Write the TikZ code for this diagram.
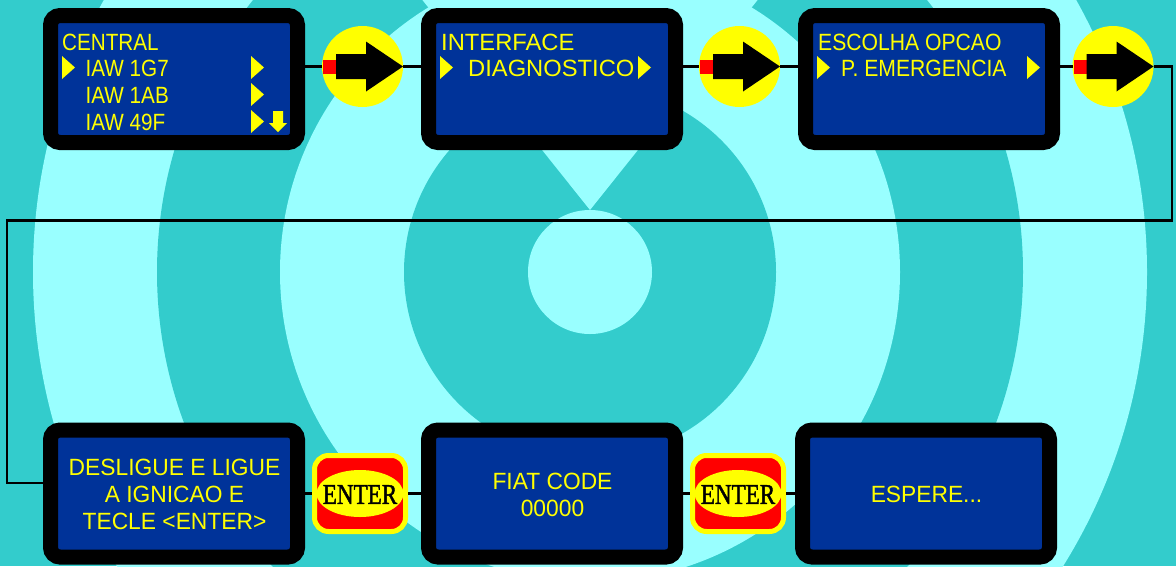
\documentclass[tikz,border=0pt]{standalone}
\usepackage{fontspec}
\setmainfont{Liberation Sans}
\newfontfamily\lcdnarrow[FakeStretch=.88]{Liberation Sans}
\newfontfamily\lcdmid[FakeStretch=.9]{Liberation Sans}
\newfontfamily\lcdplain[FakeStretch=1.01]{Liberation Sans}
\newfontfamily\lcdwide[FakeStretch=.97]{Liberation Sans}
\newfontfamily\keyfont[FakeStretch=.81,FakeBold=1.5]{Liberation Serif}
\usepackage{tikz}
\usetikzlibrary{shapes.geometric}
\definecolor{ringlight}{HTML}{99FFFF}
\definecolor{ringdark}{HTML}{33CCCC}
\definecolor{lcdblue}{HTML}{003399}
\definecolor{lcdyellow}{HTML}{FFFF00}
\definecolor{keyred}{HTML}{FF0000}
\tikzset{
  lcd/.style={draw=black, line width=15pt, fill=lcdblue, rounded corners=9.5pt, minimum width=247pt, minimum height=127pt},
  lcdtext/.style={text=lcdyellow, inner sep=0pt, anchor=base west, font=\lcdplain\fontsize{23.5}{27}\selectfont},
  lcdnar/.style={lcdtext, font=\lcdnarrow\fontsize{23.5}{27}\selectfont},
  lcdmed/.style={lcdtext, font=\lcdmid\fontsize{23.5}{27}\selectfont},
  lcdline/.style={text=lcdyellow, inner sep=0pt, anchor=base, font=\lcdwide\fontsize{23.5}{27}\selectfont},
  wire/.style={draw=black, line width=2.3pt},
  arrowdot/.style={circle, fill=lcdyellow, inner sep=0pt, outer sep=0pt, minimum size=81pt},
  enterkey/.style={draw=lcdyellow, line width=5pt, fill=keyred, rounded corners=14pt, minimum width=91pt, minimum height=76pt, outer sep=2.5pt},
  enterface/.style={ellipse, fill=lcdyellow, inner sep=0pt, minimum width=87pt, minimum height=47pt},
  entertext/.style={inner sep=0pt, font=\keyfont\fontsize{28.5}{30}\selectfont}
}
\begin{document}
\begin{tikzpicture}[x=1pt, y=-1pt]
  \clip (0,0) rectangle (1176,566);
  \fill[ringdark] (0,0) rectangle (1176,566);
  \fill[ringlight] (590,272) circle (557pt);
  \fill[ringdark] (590,272) circle (433pt);
  \fill[ringlight] (590,272) circle (310pt);
  \fill[ringdark] (590,272) circle (186pt);
  \fill[ringlight] (590,210) -- (420,-3) -- (760,-3) -- cycle;
  \fill[ringlight] (590,272) circle (62pt);

  % screens
  \node[lcd] (central) at (174,79) {};
  \node[lcd] (interface) at (552,79) {};
  \node[lcd] (escolha) at (929,79) {};
  \node[lcd] (desligue) at (174,493.5) {};
  \node[lcd] (fiatcode) at (552,493.5) {};
  \node[lcd] (espere) at (926,493.5) {};

  % round arrows
  \foreach \n/\x in {arrowa/362.5, arrowb/739.5, arrowc/1113} {
    \node[arrowdot] (\n) at (\x,66.5) {};
    \begin{scope}[shift={(\x,66.5)}]
      \fill[keyred] (-39.5,-7) rectangle (-26.5,7);
      \fill[black] (-26.5,-12.5) -- (3.5,-12.5) -- (3.5,-25) -- (40.5,0) -- (3.5,25) -- (3.5,12.5) -- (-26.5,12.5) -- cycle;
    \end{scope}
  }

  % enter keys
  \node[enterkey] (entera) at (360,493.5) {};
  \node[enterface] (enteraface) at (360,493.5) {};
  \node[entertext] (enteratext) at (360,494.5) {ENTER};
  \node[enterkey] (enterb) at (738,493.5) {};
  \node[enterface] (enterbface) at (738,493.5) {};
  \node[entertext] (enterbtext) at (738,494.5) {ENTER};

  % wires
  \coordinate (turnr) at (1172,220.5);
  \coordinate (turnl) at (7,220.5);
  \coordinate (desligue-in) at (43,483);
  \draw[wire] (central.east |- arrowa) -- (arrowa.west);
  \draw[wire] (arrowa.east) -- (interface.west |- arrowa);
  \draw[wire] (interface.east |- arrowb) -- (arrowb.west);
  \draw[wire] (arrowb.east) -- (escolha.west |- arrowb);
  \draw[wire] (escolha.east |- arrowc) -- (arrowc.west);
  \draw[wire] (arrowc.east) -| (turnr) -- (turnl) |- (desligue-in);
  \draw[wire, line width=3pt] (desligue.east) -- (entera.west);
  \draw[wire, line width=3pt] (entera.east) -- (fiatcode.west);
  \draw[wire, line width=3pt] (fiatcode.east) -- (enterb.west);
  \draw[wire, line width=3pt] (enterb.east) -- (espere.west);

  % yellow markers
  \foreach \x/\y in {62/56, 251/56, 251/83, 251/110, 440/56, 638/56, 817/56, 1027/56}
    \fill[lcdyellow] (\x,\y) -- (\x+13,\y+11.5) -- (\x,\y+23) -- cycle;
  \fill[lcdyellow] (273,111) -- (283,111) -- (283,123) -- (287,123) -- (278,132) -- (269,123) -- (273,123) -- cycle;

  % screen texts
  \node[lcdnar] (centralt) at (62,50) {CENTRAL};
  \node[lcdnar] (iawa) at (85.5,76.5) {IAW 1G7};
  \node[lcdnar] (iawb) at (85.5,103) {IAW 1AB};
  \node[lcdnar] (iawc) at (85.5,130) {IAW 49F};
  \node[lcdtext] (interfacet) at (441,50) {INTERFACE};
  \node[lcdtext] (diag) at (468,76.5) {DIAGNOSTICO};
  \node[lcdmed] (escolhat) at (818,50) {ESCOLHA OPCAO};
  \node[lcdmed] (emerg) at (841,76.5) {P. EMERGENCIA};
  \node[lcdline] (deslinea) at (174.5,475.5) {DESLIGUE E LIGUE};
  \node[lcdline] (deslineb) at (174.5,502.5) {A IGNICAO E};
  \node[lcdline] (deslinec) at (174.5,529) {TECLE <ENTER>};
  \node[lcdline] (fiatlinea) at (552.5,489.5) {FIAT CODE};
  \node[lcdline] (fiatlineb) at (552.5,516) {00000};
  \node[lcdline] (esperet) at (926.5,502.5) {ESPERE...};
\end{tikzpicture}
\end{document}
